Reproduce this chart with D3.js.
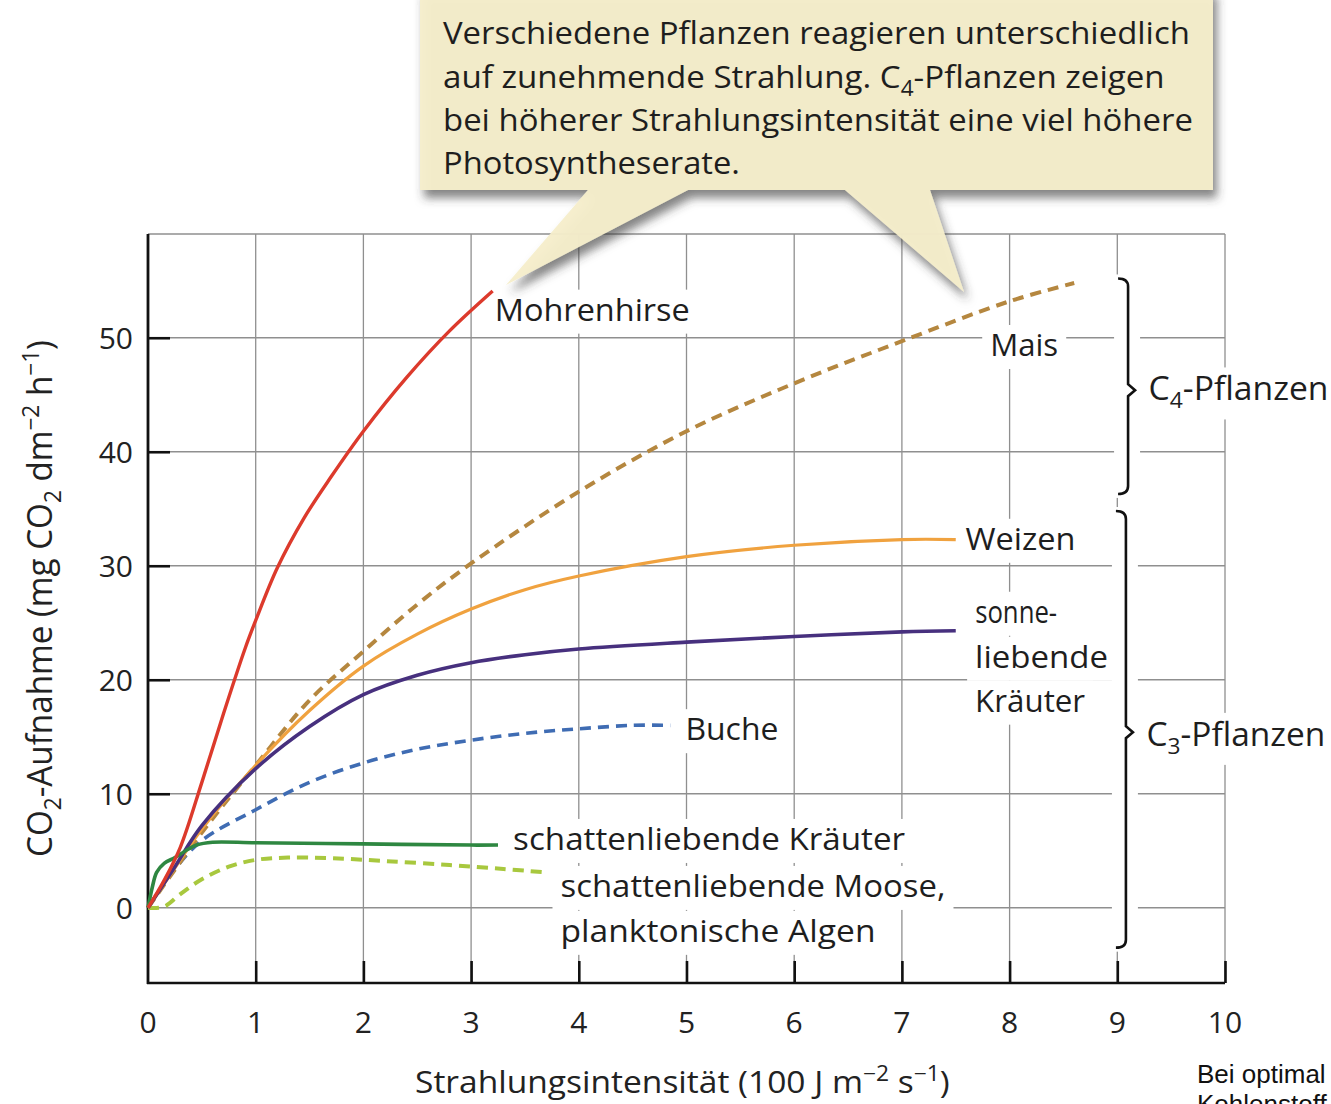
<!DOCTYPE html>
<html><head><meta charset="utf-8">
<script src="https://cdn.jsdelivr.net/npm/d3@7"></script>
<style>html,body{margin:0;padding:0;background:#fff;overflow:hidden}</style>
</head><body>
<svg id="chart" width="1331" height="1104" xmlns="http://www.w3.org/2000/svg"></svg>
<script>
// ---------- DATA ----------
const xTickValues = [0,1,2,3,4,5,6,7,8,9,10];
const xTickLabels = ["0","1","2","3","4","5","6","7","8","9","10"];
const yTickValues = [0,10,20,30,40,50];
const yTickLabels = ["0","10","20","30","40","50"];

const seriesNames = ["Mohrenhirse","Mais","Weizen","sonnenliebende Kräuter","Buche","schattenliebende Kräuter","schattenliebende Moose, planktonische Algen"];

const mohrenhirse = [[0,0],[0.15,2.4],[0.3,5.3],[0.5,11],[0.7,17],[0.9,22.7],[1.0,25.2],[1.2,29.8],[1.45,34.2],[1.7,37.8],[2.0,41.8],[2.4,46.5],[2.8,50.6],[3.2,54.1]];
const mais = [[0,0],[0.5,6.6],[1,12.5],[1.5,18.2],[2,22.5],[2.5,26.6],[3,30.2],[4,36.5],[5,41.8],[6,46],[7,49.7],[8,53.2],[8.6,54.8]];
const weizen = [[0,0],[0.25,3.5],[0.5,6.9],[1,12.5],[1.5,17.3],[2,21.2],[2.5,24.0],[3,26.2],[3.5,27.9],[4,29.1],[5,30.8],[6,31.8],[7,32.3],[7.5,32.3]];
const sonnenKraeuter = [[0,0],[0.25,3.6],[0.5,7.2],[1,12.2],[1.5,15.9],[2,18.7],[2.5,20.4],[3,21.5],[3.5,22.2],[4,22.7],[5,23.3],[6,23.8],[7,24.2],[7.5,24.3]];
const buche = [[0,0],[0.25,3.4],[0.5,5.9],[1,8.6],[1.5,11],[2,12.7],[2.5,13.9],[3,14.7],[3.5,15.3],[4,15.7],[4.5,16],[4.85,16]];
const schattenKraeuter = [[0,0],[0.04,1.8],[0.08,3.1],[0.15,3.9],[0.25,4.4],[0.35,5],[0.45,5.5],[0.6,5.75],[1,5.7],[2,5.6],[3,5.5],[3.25,5.5]];
const moose = [[0,0],[0.15,0.1],[0.3,1.2],[0.5,2.5],[0.75,3.6],[1,4.2],[1.3,4.4],[1.7,4.35],[2.2,4.1],[2.8,3.75],[3.3,3.4],[3.7,3.1]];

const bubbleLines = [
  [["Verschiedene Pflanzen reagieren unterschiedlich","n"]],
  [["auf zunehmende Strahlung. C","n"],["4","sub"],["-Pflanzen zeigen","n"]],
  [["bei höherer Strahlungsintensität eine viel höhere","n"]],
  [["Photosyntheserate.","n"]]
];

// ---------- LAYOUT ----------
const svg = d3.select("#chart");
const FONT = "'Open Sans', 'Noto Sans', sans-serif";
const x = d3.scaleLinear().domain([0,10]).range([148,1225]);
const y = d3.scaleLinear().domain([-6.6,59.1]).range([983,234]);

const defs = svg.append("defs");
const f = defs.append("filter").attr("id","shadow").attr("x","-10%").attr("y","-20%").attr("width","130%").attr("height","160%");
f.append("feDropShadow").attr("dx",4).attr("dy",8).attr("stdDeviation",5)
  .attr("flood-color","#3a3a3a").attr("flood-opacity",0.65);

// rich text helper: parts of [string, "n"|"sub"|"sup"]
function rich(sel, parts, size){
  let pending = 0;
  parts.forEach(([s,t])=>{
    const sp = sel.append("tspan").text(s);
    let shift = 0;
    if(t==="sub"){ shift = size*0.25; sp.attr("font-size",size*0.68); }
    else if(t==="sup"){ shift = -size*0.38; sp.attr("font-size",size*0.68); }
    const dy = pending + shift;
    if(dy !== 0) sp.attr("dy",dy);
    pending = -shift;
  });
}
function fitWidth(t, target){
  return target / t.node().getComputedTextLength();
}

// grid
const grid = svg.append("g");
grid.selectAll("line.v").data(xTickValues.slice(1)).join("line")
  .attr("x1",d=>x(d)).attr("x2",d=>x(d)).attr("y1",y(59.1)).attr("y2",y(-6.6))
  .attr("stroke","#8f8f8f").attr("stroke-width",1.3);
grid.selectAll("line.h").data(yTickValues.concat([59.1])).join("line")
  .attr("x1",x(0)).attr("x2",x(10)).attr("y1",d=>y(d)).attr("y2",d=>y(d))
  .attr("stroke","#8f8f8f").attr("stroke-width",1.3);

// label backgrounds layer (white boxes breaking grid)
const bgLayer = svg.append("g");

// axes
const xAxis = d3.axisBottom(x).tickValues(xTickValues.slice(1)).tickSizeInner(-22).tickSizeOuter(0).tickFormat("");
const gx = svg.append("g").attr("transform",`translate(0,${y(-6.6)})`).call(xAxis);
gx.select(".domain").attr("stroke","#111").attr("stroke-width",2.6).attr("d",`M${x(0)-1},0H${x(10)}`);
gx.selectAll(".tick line").attr("stroke","#111").attr("stroke-width",2.6);

const yAxis = d3.axisLeft(y).tickValues(yTickValues.slice(1)).tickSizeInner(-22).tickSizeOuter(0).tickFormat("");
const gy = svg.append("g").attr("transform",`translate(${x(0)},0)`).call(yAxis);
gy.select(".domain").attr("stroke","#111").attr("stroke-width",2.8).attr("d",`M0,${y(59.1)}V${y(-6.6)+1}`);
gy.selectAll(".tick line").attr("stroke","#111").attr("stroke-width",2.6);

// tick labels
svg.append("g").selectAll("text").data(xTickValues).join("text")
  .attr("x",d=>x(d)).attr("y",1033).attr("text-anchor","middle")
  .attr("font-family",FONT).attr("font-size",30).attr("fill","#222")
  .text((d,i)=>xTickLabels[i]);
svg.append("g").selectAll("text").data(yTickValues).join("text")
  .attr("x",133).attr("y",d=>y(d)+11).attr("text-anchor","end")
  .attr("font-family",FONT).attr("font-size",30).attr("fill","#222")
  .text((d,i)=>yTickLabels[i]);

// axis titles
const xt = svg.append("text").attr("x",0).attr("y",0)
  .attr("font-family",FONT).attr("font-size",31).attr("fill","#222");
rich(xt,[["Strahlungsintensität (100 J m","n"],["\u22122","sup"],[" s","n"],["\u22121","sup"],[")","n"]],31);
xt.attr("transform",`translate(415,1093) scale(${fitWidth(xt,535)},1)`);

const yt = svg.append("text").attr("x",0).attr("y",0)
  .attr("font-family",FONT).attr("font-size",34).attr("fill","#222");
rich(yt,[["CO","n"],["2","sub"],["-Aufnahme (mg CO","n"],["2","sub"],[" dm","n"],["\u22122","sup"],[" h","n"],["\u22121","sup"],[")","n"]],34);
yt.attr("transform",`translate(52,857) rotate(-90) scale(${fitWidth(yt,517)},1)`);

// labels (data units)
const labels = [
  {t:"Mohrenhirse", x:3.22, y:51.5, w:195},
  {t:"Mais", x:7.82, y:48.4, w:68},
  {t:"Weizen", x:7.59, y:31.4, w:110},
  {t:"sonne-", x:7.68, y:25.0, w:82},
  {t:"liebende", x:7.68, y:21.05, w:133},
  {t:"Kräuter", x:7.68, y:17.2, w:110},
  {t:"Buche", x:4.99, y:14.7, w:93},
  {t:"schattenliebende Kräuter", x:3.39, y:5.07, w:392},
  {t:"schattenliebende Moose,", x:3.83, y:0.95, w:385},
  {t:"planktonische Algen", x:3.83, y:-2.99, w:315}
];
const labelG = svg.append("g");
labels.forEach(l=>{
  const px = x(l.x), py = y(l.y);
  bgLayer.append("rect").attr("x",px-8).attr("y",py-31).attr("width",l.w+16).attr("height",44).attr("fill","#fff");
  labelG.append("text").attr("x",px).attr("y",py).attr("font-family",FONT).attr("font-size",31)
    .attr("fill","#1e1e1e").attr("textLength",l.w).attr("lengthAdjust","spacingAndGlyphs").text(l.t);
});

// group labels with braces
const groups = [
  {parts:[["C","n"],["4","sub"],["-Pflanzen","n"]], x:9.29, y:44.5, w:180, top:55.2, bot:36.3, tip:45.4, bx:9.1},
  {parts:[["C","n"],["3","sub"],["-Pflanzen","n"]], x:9.27, y:14.2, w:179, top:34.8, bot:-3.5, tip:15.4, bx:9.08}
];
groups.forEach(g=>{
  const px = x(g.x), py = y(g.y);
  bgLayer.append("rect").attr("x",px-6).attr("y",py-33).attr("width",g.w+12).attr("height",52).attr("fill","#fff");
  const t = labelG.append("text").attr("x",0).attr("y",0).attr("font-family",FONT).attr("font-size",32).attr("fill","#1e1e1e");
  rich(t,g.parts,32);
  t.attr("transform",`translate(${px},${py}) scale(${fitWidth(t,g.w)},1)`);
  const bx = x(g.bx), yt0=y(g.top), yb=y(g.bot), ym=y(g.tip);
  bgLayer.append("rect").attr("x",bx-14).attr("y",yt0-4).attr("width",26).attr("height",yb-yt0+8).attr("fill","#fff");
  svg.append("path").attr("fill","none").attr("stroke","#111").attr("stroke-width",2.6)
    .attr("d",`M${bx-10},${yt0} Q${bx},${yt0} ${bx},${yt0+8} V${ym-6} L${bx+7},${ym} L${bx},${ym+6} V${yb-8} Q${bx},${yb} ${bx-10},${yb}`);
});

// curves
const line = d3.line().x(d=>x(d[0])).y(d=>y(d[1])).curve(d3.curveCatmullRom.alpha(0.5));
const curves = [
  {d:moose, c:"#a8c83e", dash:"11,7", w:4},
  {d:buche, c:"#3f6cb3", dash:"11,7", w:3.6},
  {d:mais, c:"#b5873f", dash:"11,7", w:4},
  {d:weizen, c:"#f0a23f", dash:null, w:3.2},
  {d:sonnenKraeuter, c:"#47307e", dash:null, w:3.6},
  {d:schattenKraeuter, c:"#2e8741", dash:null, w:3.6},
  {d:mohrenhirse, c:"#dc3a2c", dash:null, w:3.4}
];
const cg = svg.append("g");
curves.forEach(s=>{
  cg.append("path").datum(s.d).attr("d",line).attr("fill","none")
    .attr("stroke",s.c).attr("stroke-width",s.w).attr("stroke-dasharray",s.dash)
    .attr("stroke-linecap","butt").attr("stroke-linejoin","round");
});
labelG.raise();

// speech bubble
const bub = svg.append("g");
bub.append("path")
  .attr("d","M420,-12 H1213 V190 H930 L964,292 L845,190 H688 L506,285 L588,190 H420 Z")
  .attr("fill","#f6eecb").attr("fill-opacity",0.95).attr("filter","url(#shadow)");
const bubbleWidths = [747, 722, 750, 297];
const bubbleBase = [44, 88, 131, 174];
bubbleLines.forEach((ln,i)=>{
  const t = bub.append("text").attr("x",0).attr("y",0).attr("font-family",FONT)
    .attr("font-size",31).attr("fill","#1e1e1e");
  rich(t, ln, 31);
  t.attr("transform",`translate(443,${bubbleBase[i]}) scale(${fitWidth(t,bubbleWidths[i])},1)`);
});

// cut-off side note
svg.append("text").attr("x",1197).attr("y",1083).attr("font-family","'Liberation Sans','Noto Sans',sans-serif")
  .attr("font-size",26).attr("fill","#111").text("Bei optimal");
svg.append("text").attr("x",1197).attr("y",1113).attr("font-family","'Liberation Sans','Noto Sans',sans-serif")
  .attr("font-size",26).attr("fill","#111").text("Kohlenstoff");
</script>
</body></html>
